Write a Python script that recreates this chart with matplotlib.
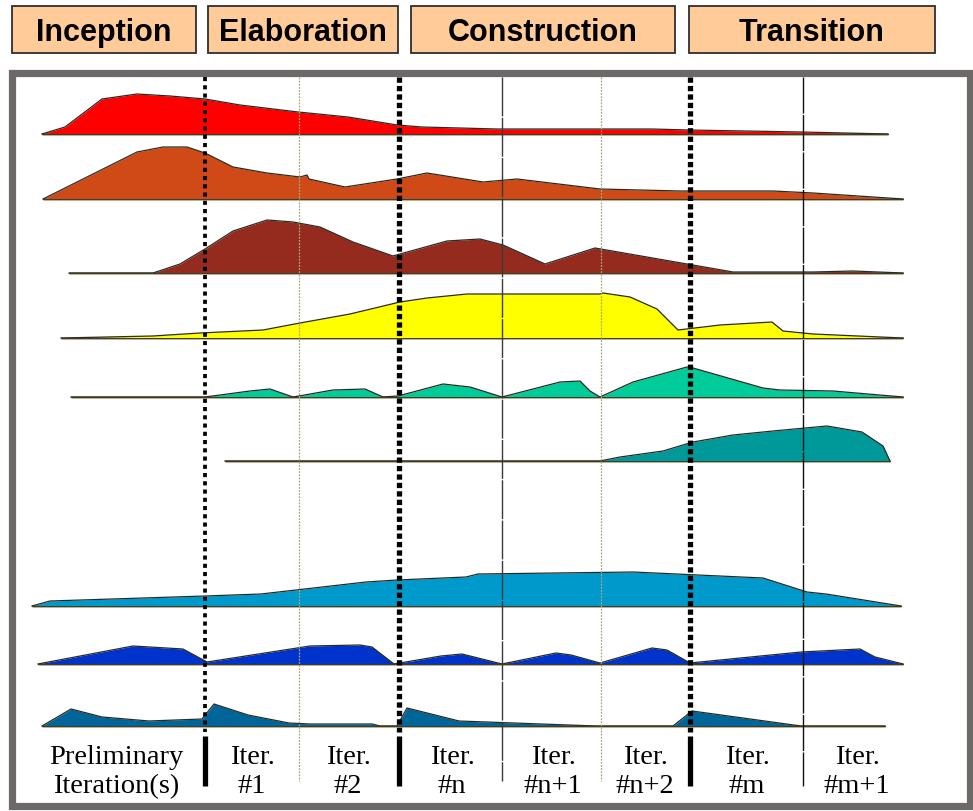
import matplotlib
matplotlib.use("Agg")
import matplotlib.pyplot as plt
from matplotlib.patches import Rectangle

# ---------------- data ----------------
phases = ["Inception", "Elaboration", "Construction", "Transition"]
iteration_labels = ["Preliminary\nIteration(s)", "Iter.\n#1", "Iter.\n#2", "Iter.\n#n",
                    "Iter.\n#n+1", "Iter.\n#n+2", "Iter.\n#m", "Iter.\n#m+1"]

# hump profiles: x positions along the timeline and hump heights
red_x = [42, 65, 102, 137, 170, 205, 240, 298, 348, 397, 422, 497, 560, 652, 689, 801, 888]
red_h = [0, 7, 35, 40, 38, 35, 29, 22, 17, 9, 7, 5, 5, 5, 4, 2, 0]

orange_x = [43, 137, 163, 187, 205, 233, 267, 300, 307, 309, 345, 397, 427, 483, 517, 600, 680, 773, 813, 903]
orange_h = [0, 47, 52, 52, 46, 32, 26, 22, 24, 20, 12, 20, 26, 17, 20, 10, 8, 8, 6, 0]

brown_x = [69, 153, 180, 205, 233, 267, 293, 320, 353, 393, 400, 447, 480, 503, 545, 595, 687, 733, 813, 853, 903]
brown_h = [0, 0, 9, 24, 42, 53, 51, 46, 31, 17, 19, 32, 34, 28, 9, 25, 9, 1, 1, 2, 0]

yellow_x = [61, 153, 200, 263, 300, 350, 400, 427, 467, 600, 603, 630, 657, 678, 720, 772, 783, 813, 903]
yellow_h = [0, 2, 5, 8, 15, 24, 36, 40, 44, 44, 45, 41, 29, 8, 13, 16, 7, 4, 0]

green_x = [71, 205, 250, 270, 293, 333, 365, 383, 398, 443, 470, 502, 560, 580, 590, 600, 633, 687, 693, 763, 780, 833, 903]
green_h = [0, 0, 6, 8, 0, 7, 8, 0, 1, 13, 10, 0, 15, 16, 6, 0, 15, 30, 29, 9, 7, 6, 0]

teal_x = [225, 600, 620, 663, 693, 733, 773, 827, 862, 883, 890]
teal_h = [0, 0, 4, 10, 19, 26, 30, 35, 29, 15, 0]

lightblue_x = [32, 50, 205, 261, 366, 397, 466, 478, 633, 763, 807, 826, 901]
lightblue_h = [0, 5, 10, 12, 24, 26, 29, 32, 34, 28, 14, 12, 0]

blue_x = [38, 133, 183, 207, 310, 360, 372, 394, 441, 462, 502, 556, 571, 600, 652, 667, 690, 801, 860, 875, 903]
blue_h = [0, 18, 15, 2, 18, 19, 17, 0, 8, 10, 0, 11, 9, 1, 16, 14, 1, 12, 15, 7, 0]

navy_x = [42, 71, 102, 149, 202, 214, 248, 289, 310, 372, 380, 397, 407, 459, 596, 673, 692, 801, 885]
navy_h = [0, 17, 9, 5, 7, 22, 11, 3, 2, 2, 0, 0, 18, 5, 0, 0, 15, 0, 0]

# ---------------- layout / style ----------------
W, H = 973, 812
fig = plt.figure(figsize=(W / 100, H / 100), dpi=100)
ax = fig.add_axes([0, 0, 1, 1])
ax.set_xlim(0, W)
ax.set_ylim(H, 0)
ax.axis("off")

rows = [
    (red_x, red_h, 135, "#FF0000"),
    (orange_x, orange_h, 200, "#CF4A16"),
    (brown_x, brown_h, 274, "#952B1F"),
    (yellow_x, yellow_h, 339, "#FFFF00"),
    (green_x, green_h, 398, "#00CC99"),
    (teal_x, teal_h, 462, "#009999"),
    (lightblue_x, lightblue_h, 607, "#0099CC"),
    (blue_x, blue_h, 665, "#0033CC"),
    (navy_x, navy_h, 727, "#006699"),
]

# frame
ax.add_patch(Rectangle((12, 73.5), 957.5, 733.5, fill=False, edgecolor="#6D6969",
                       linewidth=5.2, zorder=1))

for xs, hs, base, col in rows:
    ys = [base - h for h in hs]
    ax.plot([xs[0], xs[-1]], [base, base], color="#B8B490", lw=2.2, zorder=2,
            solid_capstyle="butt")
    ax.fill_between(xs, [base] * len(xs), ys, color=col, lw=0, zorder=3)
    ax.plot(xs, ys, color="#2B2B22", lw=0.9, zorder=4)
    ax.plot([xs[0], xs[-1]], [base, base], color="#3A3A30", lw=0.7, zorder=4)

# iteration boundaries
bounds = [205, 299, 399, 502, 601, 690, 803]
kinds = ["major", "minor", "major2", "solid", "minor", "major2", "dash"]
top, mid, bot = 78, 733, 787
for bx, kd in zip(bounds, kinds):
    if kd == "major":
        ax.plot([bx, bx], [top, mid], color="black", lw=2.7, ls=(0, (1.1, 1.1)), zorder=6)
        ax.plot([bx, bx], [mid + 4, bot], color="black", lw=3.8, zorder=6, solid_capstyle="butt")
    elif kd == "major2":
        ax.plot([bx, bx], [top, mid], color="black", lw=3.8, ls=(0, (1.0, 0.6)), zorder=6)
        ax.plot([bx, bx], [mid + 4, bot], color="black", lw=3.8, zorder=6, solid_capstyle="butt")
    elif kd == "minor":
        ax.plot([bx, bx], [top, bot - 5], color="#A8A878", lw=0.9, ls=(0, (1.5, 1)), zorder=6)
    elif kd == "solid":
        ax.plot([bx, bx], [top, bot - 5], color="#3A3A3A", lw=1.0, ls=(0, (28, 1.0)), zorder=6)
    else:
        ax.plot([bx, bx], [top, bot], color="#111111", lw=1.0, ls=(0, (26, 1.0)), zorder=6)

# phase header boxes
phase_spans = [(12, 196), (208, 398), (411, 675), (689, 935)]
for name, (x0, x1) in zip(phases, phase_spans):
    ax.add_patch(Rectangle((x0, 7), x1 - x0, 47, facecolor="#FFCC99", edgecolor="#2E2E2E",
                           linewidth=1.3, zorder=5))
    ax.text((x0 + x1) / 2, 41, name, ha="center", va="baseline", fontsize=22,
            fontweight="bold", family=["Liberation Sans", "DejaVu Sans"], color="black", zorder=6)

# iteration labels
label_centers = [116, 252, 348, 452, 553, 645, 747, 857]
for lab, cx in zip(iteration_labels, label_centers):
    line1, line2 = lab.split("\n")
    for txt, ty in ((line1, 764), (line2, 793)):
        ax.text(cx, ty, txt, ha="center", va="baseline", fontsize=20.5,
                family=["Liberation Serif", "DejaVu Serif"], color="black", zorder=6)

fig.savefig("out.png", dpi=100)
